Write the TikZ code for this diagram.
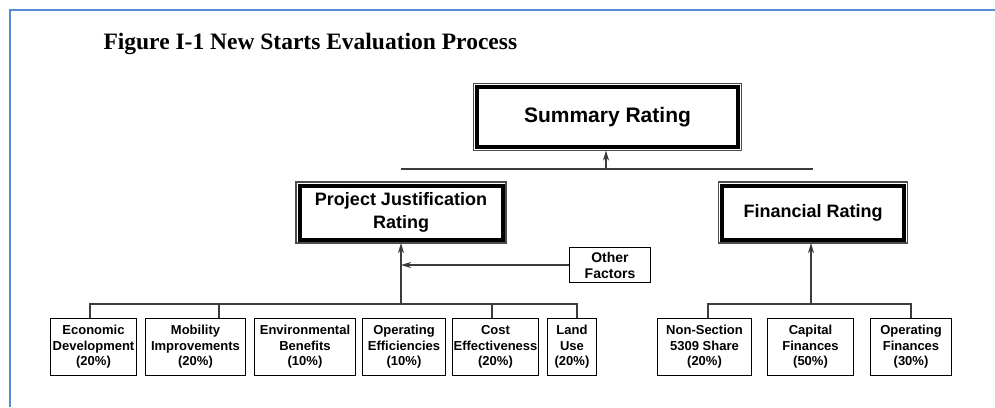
\documentclass[tikz,border=0pt]{standalone}
\usepackage{fontspec}
\setmainfont{Liberation Serif}
\setsansfont{Liberation Sans}
\usepackage{tikz}
\usetikzlibrary{arrows.meta}
\definecolor{framebl}{RGB}{84,141,212}
\definecolor{linegray}{RGB}{60,60,60}
\tikzstyle{arrow} = [-{Stealth[length=10pt,width=6pt,inset=3pt]}, line width=1.3pt, draw=linegray]
\tikzstyle{link} = [line width=1.3pt, draw=linegray]
\tikzstyle{rating} = [draw, line width=4pt, outer sep=3.5pt, align=center, font=\sffamily\bfseries\fontsize{18}{23}\selectfont]
\tikzstyle{rim} = [line width=1.5pt, draw=black!70]
\tikzstyle{factor} = [draw, line width=1pt, inner sep=1pt, minimum height=57pt, align=center, font=\sffamily\bfseries\fontsize{13}{15.5}\selectfont]

\begin{document}
\begin{tikzpicture}[x=1pt, y=-1pt]
        \useasboundingbox (0,0) rectangle (995,407);
        \draw[framebl, line width=2pt] (10,407) -- (10,10) -- (995,10);
        \node[anchor=base west, font=\rmfamily\bfseries\fontsize{23.5}{28}\selectfont] at (100,49) (title) {Figure I-1 New Starts Evaluation Process};

        \node[rating, minimum width=261pt, minimum height=60pt, font=\sffamily\bfseries\fontsize{21}{25}\selectfont] at (607.5,117) (sum) {Summary Rating};
        \node[rating, minimum width=203pt, minimum height=54pt] at (401,212.5) (pj) {Project Justification\\Rating};
        \node[rating, minimum width=182pt, minimum height=54pt] at (813,212.5) (fin) {Financial Rating};
        \foreach \n in {sum,pj,fin}
            \draw[rim] (\n.north west) rectangle (\n.south east);

        \node[factor, minimum width=81pt, minimum height=35pt, font=\sffamily\bfseries\fontsize{14}{16}\selectfont] at (610,265) (oth) {Other\\Factors};

        \node[factor, minimum width=86pt] at (93.5,347) (econ) {Economic\\Development\\(20\%)};
        \node[factor, minimum width=100pt] at (195.5,347) (mob) {Mobility\\Improvements\\(20\%)};
        \node[factor, minimum width=101pt] at (305,347) (env) {Environmental\\Benefits\\(10\%)};
        \node[factor, minimum width=83pt] at (404,347) (opeff) {Operating\\Efficiencies\\(10\%)};
        \node[factor, minimum width=86pt] at (495.5,347) (cost) {Cost\\Effectiveness\\(20\%)};
        \node[factor, minimum width=49pt] at (572,347) (land) {Land\\Use\\(20\%)};
        \node[factor, minimum width=94pt] at (704.5,347) (nonsec) {Non-Section\\5309 Share\\(20\%)};
        \node[factor, minimum width=86pt] at (810.5,347) (capfin) {Capital\\Finances\\(50\%)};
        \node[factor, minimum width=81pt] at (911,347) (opfin) {Operating\\Finances\\(30\%)};

        \coordinate (tbus) at (606,169);
        \coordinate (lbus) at (401,304);
        \coordinate (rbus) at (811,304);

        \draw[link] (pj |- tbus) -- (fin |- tbus);
        \draw[arrow] (tbus) -- (tbus |- sum.south);

        \draw[link] ([xshift=-3.5pt]econ.north) -- ++(0,-14) -| ([xshift=5pt]land.north);
        \draw[link] ([xshift=23.5pt]mob.north) -- ++(0,-14);
        \draw[link] ([xshift=-3.5pt]cost.north) -- ++(0,-14);
        \draw[arrow] (lbus) -- (pj.south);
        \draw[arrow] (oth.west) -- (oth.west -| lbus);

        \draw[link] ([xshift=3.5pt]nonsec.north) -- ++(0,-14) -| (opfin.north);
        \draw[arrow] (rbus) -- (rbus |- fin.south);
    \end{tikzpicture}
\end{document}
